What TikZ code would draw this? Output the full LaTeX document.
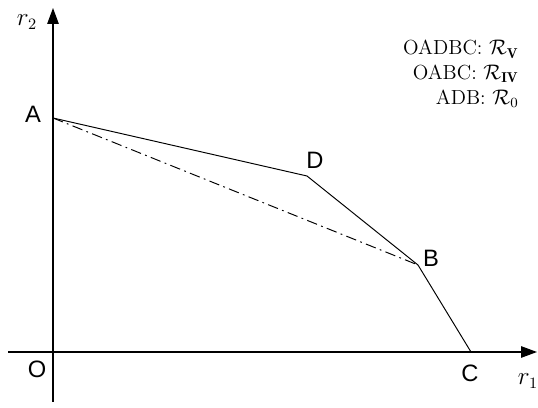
\documentclass[tikz,border=0pt]{standalone}
\usepackage{amsmath,amssymb}
\usepackage{fontspec}
\newfontfamily\ptfont{Liberation Sans}
\usetikzlibrary{arrows.meta, positioning, calc}

\begin{document}
\begin{tikzpicture}[
    x=0.02cm, y=-0.02cm,
    axis/.style={line width=0.7pt, -{Triangle[length=0.32cm, width=0.23cm]}},
    edge/.style={line width=0.55pt},
    chord/.style={line width=0.55pt, dash pattern=on 6pt off 2.5pt on 1pt off 2.5pt},
    ptlabel/.style={font=\ptfont\fontsize{13.5}{15}\selectfont, inner sep=0pt},
    axlabel/.style={font=\fontsize{13.5}{15}\selectfont, inner sep=0pt}
]
    \useasboundingbox (0,0) rectangle (538,408);

    % axes
    \coordinate (xstart) at (8,352);
    \coordinate (xend) at (537,352);
    \coordinate (ystart) at (53,402);
    \coordinate (yend) at (53,8);
    \draw [axis] (xstart) -- (xend);
    \draw [axis] (ystart) -- (yend);
    \node [axlabel] (r1) at (528,381) {$r_1$};
    \node [axlabel] (r2) at (27,22) {$r_2$};

    % corner points
    \coordinate (O) at (53,352);
    \coordinate (A) at (53,118);
    \coordinate (D) at (307,176);
    \coordinate (B) at (418,265);
    \coordinate (C) at (471,352);

    \node [ptlabel] (labO) at (37,369) {O};
    \node [ptlabel] (labA) at (33,114) {A};
    \node [ptlabel] (labD) at (315,160) {D};
    \node [ptlabel] (labB) at (431,258) {B};
    \node [ptlabel] (labC) at (470,373) {C};

    % boundary of the regions
    \draw [edge] (A) -- (D);
    \draw [edge] (D) -- (B);
    \draw [edge] (B) -- (C);
    \draw [chord] (A) -- (B);

    % legend
    \node [anchor=north east, align=right, inner sep=0pt,
           font=\fontsize{11.6}{14}\selectfont] (legend) at (519,40)
        {OADBC: $\mathcal{R}_{\mathbf{V}}$\\
         OABC: $\mathcal{R}_{\mathbf{IV}}$\\
         ADB: $\mathcal{R}_0$};
\end{tikzpicture}
\end{document}
